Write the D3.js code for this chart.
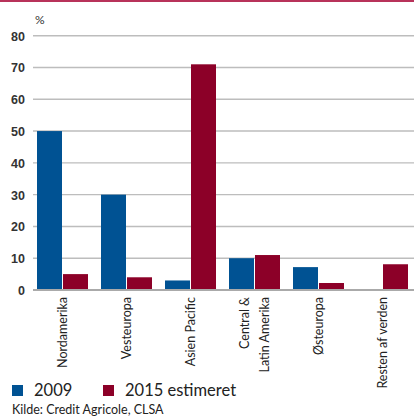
<!DOCTYPE html>
<html><head><meta charset="utf-8">
<script src="https://cdn.jsdelivr.net/npm/d3@7"></script>
<style>
html,body{margin:0;padding:0;background:#fff;}
svg{display:block;}
</style></head>
<body>
<svg id="c" width="414" height="418"></svg>
<script>
const categories = ["Nordamerika", "Vesteuropa", "Asien Pacific", "Central &\nLatin Amerika", "Østeuropa", "Resten af verden"];
const series2009 = [50, 30, 3, 10, 7.2, 0.2];
const series2015 = [5, 4, 71, 11, 2.2, 8.1];
const seriesNames = ["2009", "2015 estimeret"];
const yTicks = [0, 10, 20, 30, 40, 50, 60, 70, 80];
const colors = ["#005293", "#8c0028"];

const svg = d3.select("#c");
const font = "Lato, 'Open Sans', sans-serif";

// top rule
svg.append("rect").attr("x", 0).attr("y", 0).attr("width", 414).attr("height", 2).attr("fill", "#b8325a");

const y = d3.scaleLinear().domain([0, 80]).range([290, 35.7]);
const x = d3.scaleBand().domain(categories).range([33, 417]).padding(0);

// gridlines
svg.append("g").selectAll("line").data(yTicks.filter(d => d > 0)).join("line")
  .attr("x1", 33).attr("x2", 414)
  .attr("y1", d => y(d)).attr("y2", d => y(d))
  .attr("stroke", "#bdbdbd").attr("stroke-width", 1.4);

// y axis labels
const yAxis = d3.axisLeft(y).tickValues(yTicks).tickSize(0).tickPadding(0);
const ga = svg.append("g").attr("transform", "translate(25,0)").call(yAxis);
ga.select(".domain").remove();
ga.selectAll("text").attr("font-family", "'Liberation Sans', Arial, sans-serif")
  .attr("font-size", 12.5).attr("font-weight", "bold").attr("fill", "#333").attr("dy", "0.35em");

svg.append("text").attr("x", 35).attr("y", 24).text("%")
  .attr("font-family", font).attr("font-size", 12).attr("fill", "#333");

// bars
const barW = 25;
const offsets = [4, 30];
[series2009, series2015].forEach((s, si) => {
  svg.append("g").selectAll("rect").data(categories).join("rect")
    .attr("x", d => x(d) + offsets[si])
    .attr("width", barW)
    .attr("y", (d, i) => y(s[i]))
    .attr("height", (d, i) => y(0) - y(s[i]))
    .attr("fill", colors[si]);
});

// zero line
svg.append("line").attr("x1", 33).attr("x2", 414).attr("y1", y(0)).attr("y2", y(0))
  .attr("stroke", "#aaaaaa").attr("stroke-width", 2);

// category labels
categories.forEach(c => {
  const cx = x(c) + 29.5;
  const lines = c.split("\n");
  const t = svg.append("text")
    .attr("transform", `translate(${cx},297) rotate(-90)`)
    .attr("text-anchor", "end")
    .attr("font-family", font).attr("font-size", 12.5).attr("fill", "#222");
  const n = lines.length;
  lines.forEach((l, i) => {
    t.append("tspan").attr("x", 0).attr("y", (i - (n - 1) / 2) * 20 + 4.5).text(l);
  });
});

// legend
seriesNames.forEach((name, i) => {
  const lx = [12, 103][i];
  svg.append("rect").attr("x", lx).attr("y", 385).attr("width", 11).attr("height", 11).attr("fill", colors[i]);
  svg.append("text").attr("x", lx + 22).attr("y", 396).text(name)
    .attr("font-family", font).attr("font-size", 16.5).attr("fill", "#222");
});

svg.append("text").attr("x", 12).attr("y", 414).text("Kilde: Credit Agricole, CLSA")
  .attr("font-family", font).attr("font-size", 12.5).attr("fill", "#222");
</script>
</body></html>
